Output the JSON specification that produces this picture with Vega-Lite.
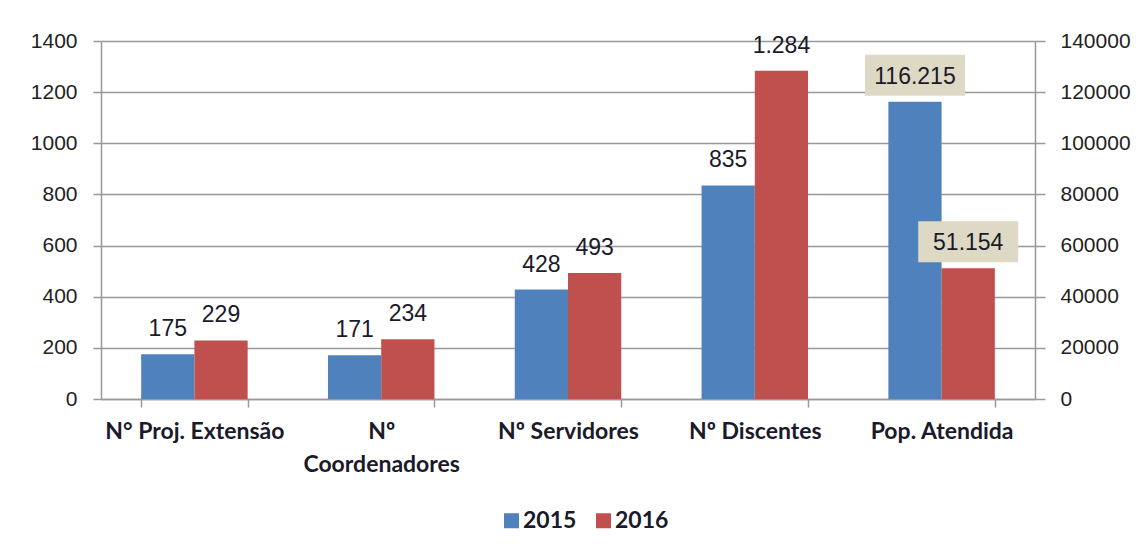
{
  "$schema": "https://vega.github.io/schema/vega-lite/v6.json",
  "width": 934,
  "height": 358,
  "autosize": {"type": "none"},
  "padding": {"left": 101, "top": 41, "right": 107, "bottom": 152},
  "background": "white",
  "config": {
    "locale": {"number": {"decimal": ",", "thousands": ".", "grouping": [3], "currency": ["R$", ""]}},
    "view": {"stroke": null},
    "axis": {"domainColor": "#999999", "domainWidth": 1.5, "tickColor": "#999999", "tickWidth": 1.5, "gridColor": "#999999", "gridWidth": 1.3, "labelColor": "#222222", "labelFont": "Liberation Sans", "labelFontSize": 21, "title": null}
  },
  "data": {
    "values": [
      {"cat": "N° Proj. Extensão", "year": "2015", "value": 175, "side": "left"},
      {"cat": "N° Proj. Extensão", "year": "2016", "value": 229, "side": "left"},
      {"cat": "Nº Coordenadores", "year": "2015", "value": 171, "side": "left"},
      {"cat": "Nº Coordenadores", "year": "2016", "value": 234, "side": "left"},
      {"cat": "Nº Servidores", "year": "2015", "value": 428, "side": "left"},
      {"cat": "Nº Servidores", "year": "2016", "value": 493, "side": "left"},
      {"cat": "Nº Discentes", "year": "2015", "value": 835, "side": "left"},
      {"cat": "Nº Discentes", "year": "2016", "value": 1284, "side": "left"},
      {"cat": "Pop. Atendida", "year": "2015", "value": 116215, "side": "right"},
      {"cat": "Pop. Atendida", "year": "2016", "value": 51154, "side": "right"}
    ]
  },
  "encoding": {
    "x": {
      "field": "cat", "type": "nominal",
      "scale": {"domain": ["N° Proj. Extensão", "Nº Coordenadores", "Nº Servidores", "Nº Discentes", "Pop. Atendida"], "paddingInner": 0.43, "paddingOuter": 0.215},
      "axis": {
        "labelAngle": 0, "tickBand": "extent", "tickSize": 8, "labelPadding": 13,
        "labelFont": "Lato", "labelFontWeight": "bold", "labelFontSize": 23, "labelColor": "#1a1a2a",
        "labelLineHeight": 33,
        "labelExpr": "datum.value == 'Nº Coordenadores' ? ['Nº', 'Coordenadores'] : datum.value"
      }
    },
    "xOffset": {"field": "year", "type": "nominal", "scale": {"domain": ["2015", "2016"]}}
  },
  "layer": [
    {
      "transform": [{"filter": "datum.side == 'left'"}],
      "encoding": {
        "y": {"field": "value", "type": "quantitative", "scale": {"domain": [0, 1400], "nice": false}, "axis": {"values": [0, 200, 400, 600, 800, 1000, 1200, 1400], "format": "d", "tickSize": 8, "labelPadding": 16, "grid": true}}
      },
      "layer": [
        {
          "mark": {"type": "bar"},
          "encoding": {
            "color": {"field": "year", "type": "nominal", "scale": {"domain": ["2015", "2016"], "range": ["#4f81bd", "#c0504d"]},
              "legend": {"orient": "none", "legendX": 399, "legendY": 468, "direction": "horizontal", "title": null, "symbolType": "square", "symbolSize": 225, "symbolStrokeWidth": 0, "labelFont": "Lato", "labelFontWeight": "bold", "labelFontSize": 23, "labelColor": "#1a1a2a", "labelOffset": 0, "columnPadding": 15}}
          }
        },
        {
          "mark": {"type": "text", "baseline": "alphabetic", "dy": -18, "font": "Liberation Sans", "fontSize": 23, "color": "#1a1a2a"},
          "encoding": {"text": {"field": "value", "type": "quantitative", "format": ",d"}}
        }
      ]
    },
    {
      "transform": [{"filter": "datum.side == 'right'"}],
      "encoding": {
        "y": {"field": "value", "type": "quantitative", "scale": {"domain": [0, 140000], "nice": false}, "axis": {"orient": "right", "values": [0, 20000, 40000, 60000, 80000, 100000, 120000, 140000], "format": "d", "tickSize": 10, "labelPadding": 15, "grid": false}}
      },
      "layer": [
        {
          "mark": {"type": "bar"},
          "encoding": {
            "color": {"field": "year", "type": "nominal", "scale": {"domain": ["2015", "2016"], "range": ["#4f81bd", "#c0504d"]}}
          }
        },
        {
          "mark": {"type": "bar", "color": "#ddd9c4", "width": 100, "yOffset": -6, "y2Offset": -47},
          "encoding": {"y2": {"field": "value"}}
        },
        {
          "mark": {"type": "text", "baseline": "alphabetic", "dy": -18, "font": "Liberation Sans", "fontSize": 23, "color": "#1a1a2a"},
          "encoding": {"text": {"field": "value", "type": "quantitative", "format": ",d"}}
        }
      ]
    }
  ],
  "resolve": {"scale": {"y": "independent"}}
}
